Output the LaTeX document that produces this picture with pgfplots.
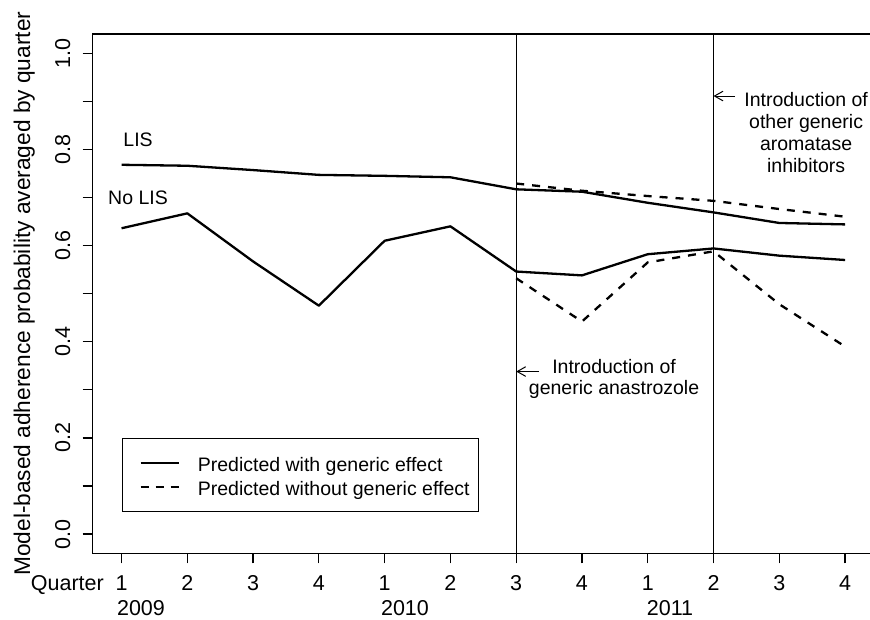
\documentclass[border=0pt]{standalone}
\usepackage{pgfplots}
\pgfplotsset{compat=1.18}
\usepackage{fontspec}
\setmainfont{Liberation Sans}
\usetikzlibrary{arrows.meta}
\newcommand{\rfont}{\fontsize{19.5}{23.4}\selectfont}
\newcommand{\afont}{\fontsize{21.5}{25.8}\selectfont}
\newcommand{\lfont}{\fontsize{22.7}{27.2}\selectfont}

\begin{document}
\begin{tikzpicture}[x=1pt,y=1pt,font=\rfont]
\begin{axis}[
  at={(92.6pt,65.7pt)}, anchor=south west,
  width=781.4pt, height=519.3pt, scale only axis,
  xmin=0.56, xmax=12.44, ymin=-0.04, ymax=1.04,
  axis line style={line width=1.2pt},
  tick style={line width=1.2pt, black},
  tick align=outside, major tick length=10pt, tick pos=left,
  xtick={1,2,3,4,5,6,7,8,9,10,11,12},
  xticklabels={1,2,3,4,1,2,3,4,1,2,3,4},
  ytick={0,0.1,0.2,0.3,0.4,0.5,0.6,0.7,0.8,0.9,1},
  yticklabels={0.0,,0.2,,0.4,,0.6,,0.8,,1.0},
  xticklabel style={anchor=base, inner sep=0pt, font=\afont},
  yticklabel style={rotate=90, anchor=base, inner sep=0pt, font=\afont},
  xticklabel shift=27.4pt, yticklabel shift=12.6pt,
  /pgf/number format/assume math mode=true,
  legend style={at={(0.0376,0.222)}, anchor=north west, draw=black,
    line width=1.2pt, inner xsep=9pt, inner ysep=12.5pt, font=\rfont,
    row sep=0pt, column sep=18pt,
    nodes={inner sep=0pt, text height=20pt, text depth=4pt}},
  legend cell align=left,
  legend image code/.code={\path (0pt,0pt); \draw[#1] (8pt,0pt) -- (46pt,0pt);},
]
% lines marking the introduction of generics
\addplot[line width=1.2pt, forget plot] coordinates {(7,-0.04) (7,1.04)};
\addplot[line width=1.2pt, forget plot] coordinates {(10,-0.04) (10,1.04)};

% LIS
\addplot[line width=2.3pt, line join=round, forget plot] coordinates {
  (1,0.768) (2,0.766) (3,0.757) (4,0.747) (5,0.745) (6,0.742)
  (7,0.717) (8,0.712) (9,0.689) (10,0.669) (11,0.647) (12,0.644)};
\addplot[line width=2.3pt, line join=round, dash pattern=on 8pt off 8pt, forget plot] coordinates {
  (7,0.729) (8,0.714) (9,0.703) (10,0.693) (11,0.676) (12,0.660)};

% No LIS
\addplot[line width=2.3pt, line join=round, forget plot] coordinates {
  (1,0.636) (2,0.667) (3,0.567) (4,0.475) (5,0.610) (6,0.640)
  (7,0.546) (8,0.538) (9,0.582) (10,0.594) (11,0.579) (12,0.570)};
\addplot[line width=2.3pt, line join=round, dash pattern=on 8pt off 8pt, forget plot] coordinates {
  (7,0.532) (8,0.442) (9,0.565) (10,0.588) (11,0.478) (12,0.390)};

\addlegendimage{line width=2.3pt}
\addlegendentry{Predicted with generic effect}
\addlegendimage{line width=2.3pt, dash pattern=on 8pt off 7pt}
\addlegendentry{Predicted without generic effect}

\node[anchor=base] at (axis cs:1.251,0.806) {LIS};
\node[anchor=base] at (axis cs:1.251,0.685) {No LIS};

\draw[line width=1pt, -{Straight Barb[length=8.5pt,width=9.6pt]}] (axis cs:7.35,0.338) -- (axis cs:7.0,0.338);
\node[anchor=base] at (axis cs:8.488,0.3347) {Introduction of};
\node[anchor=base] at (axis cs:8.488,0.2896) {generic anastrozole};

\draw[line width=1pt, -{Straight Barb[length=8.5pt,width=9.6pt]}] (axis cs:10.33,0.911) -- (axis cs:10.0,0.911);
\node[anchor=base] at (axis cs:11.408,0.889) {Introduction of};
\node[anchor=base] at (axis cs:11.408,0.843) {other generic};
\node[anchor=base] at (axis cs:11.408,0.797) {aromatase};
\node[anchor=base] at (axis cs:11.408,0.751) {inhibitors};
\end{axis}

\node[anchor=base east, inner sep=0pt, font=\afont] at (104,28.3) {Quarter};
\node[anchor=base, inner sep=0pt, font=\afont] at (141,4) {2009};
\node[anchor=base, inner sep=0pt, font=\afont] at (405,4) {2010};
\node[anchor=base, inner sep=0pt, font=\afont] at (670,4) {2011};
\node[rotate=90, anchor=base, inner sep=0pt, font=\lfont] at (30,325.3) {Model-based adherence probability averaged by quarter};

\pgfresetboundingbox
\path[use as bounding box] (0,0) rectangle (870,619);
\end{tikzpicture}
\end{document}
